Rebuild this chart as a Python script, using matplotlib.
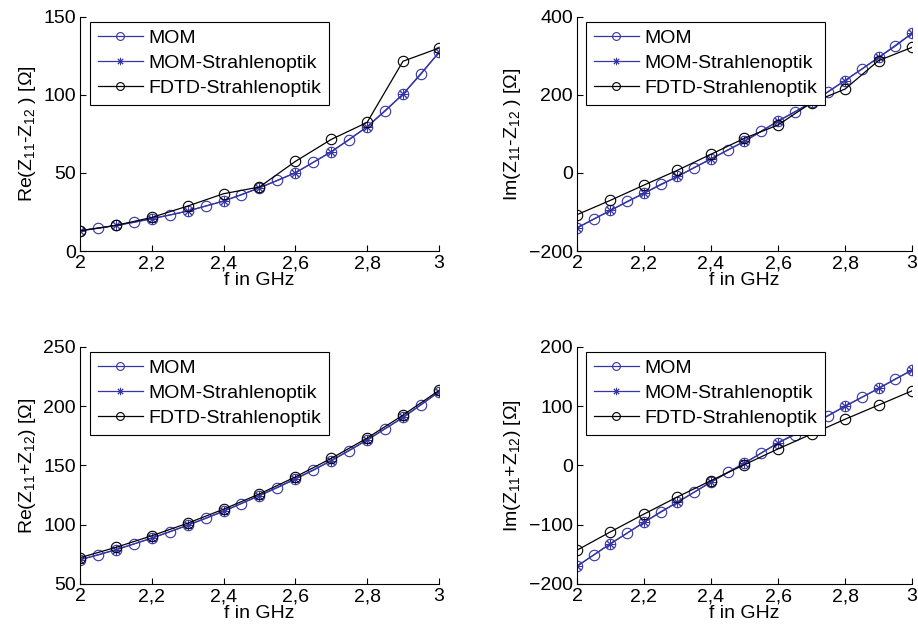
import numpy as np
import matplotlib
matplotlib.use("Agg")
import matplotlib.pyplot as plt

plt.rcParams['font.family'] = ['Liberation Sans', 'DejaVu Sans']
plt.rcParams['mathtext.fontset'] = 'custom'
plt.rcParams['mathtext.rm'] = 'Liberation Sans'
plt.rcParams['mathtext.it'] = 'Liberation Sans'
plt.rcParams['mathtext.default'] = 'regular'

# frequencies
f_fine = [2.00, 2.05, 2.10, 2.15, 2.20, 2.25, 2.30, 2.35, 2.40, 2.45, 2.50,
          2.55, 2.60, 2.65, 2.70, 2.75, 2.80, 2.85, 2.90, 2.95, 3.00]
f_coarse = [2.0, 2.1, 2.2, 2.3, 2.4, 2.5, 2.6, 2.7, 2.8, 2.9, 3.0]

# Re(Z11 - Z12)
re_diff_mom = [13, 14.5, 16.4, 18.3, 20.7, 23, 25.6, 28.8, 32, 36, 40.5,
               45.2, 50.1, 56.8, 63.6, 71.3, 79.6, 89.6, 100.5, 113.3, 127.2]
re_diff_momso = [13, 16.4, 20.7, 25.6, 32, 40.5, 50.1, 63.6, 79.6, 100.5, 127.2]
re_diff_fdtd = [13, 16.4, 21.5, 28.8, 36.7, 41, 57.4, 71.5, 82.4, 121.6, 130]

# Im(Z11 - Z12)
im_diff_mom = [-141, -118, -96, -73, -52, -29, -9, 14, 36, 59, 81,
               107, 133, 156, 181, 208, 237, 266, 296, 325, 358]
im_diff_momso = [-141, -96, -52, -9, 36, 81, 133, 181, 237, 296, 358]
im_diff_fdtd = [-107, -70, -31, 7, 48, 89, 123, 180, 215, 288, 322]

# Re(Z11 + Z12)
re_sum_mom = [70.5, 74.4, 78.9, 83.7, 88.7, 94, 99.6, 105.3, 111.4, 117.9, 124.6,
              131.3, 138.6, 145.9, 154.1, 162.5, 171.5, 181, 190.5, 201.2, 212.1]
re_sum_momso = [70.5, 78.9, 88.7, 99.6, 111.4, 124.6, 138.6, 154.1, 171.5, 190.5, 212.1]
re_sum_fdtd = [72.2, 80.9, 90.7, 101.3, 113.1, 126, 140.3, 156, 173.1, 192.5, 213.3]

# Im(Z11 + Z12)
im_sum_mom = [-170, -151, -132, -114, -96, -78, -62, -45, -28, -11.5, 4,
              21, 38, 52, 69, 84, 100, 115, 130, 146, 161]
im_sum_momso = [-170, -132, -96, -62, -28, 4, 38, 69, 100, 130, 161]
im_sum_fdtd = [-143, -112, -82, -53, -25.5, 1.4, 28, 53, 78, 102, 126]

labels = ['MOM', 'MOM-Strahlenoptik', 'FDTD-Strahlenoptik']
xticks = [2.0, 2.2, 2.4, 2.6, 2.8, 3.0]
xticklabels = ['2', '2,2', '2,4', '2,6', '2,8', '3']

panels = [
    dict(mom=re_diff_mom, so=re_diff_momso, fd=re_diff_fdtd,
         ylabel=r'Re(Z$_{11}$-Z$_{12}$ ) [Ω]', ylim=(0, 150), yticks=[0, 50, 100, 150],
         pos=[0.0871, 0.6022, 0.391, 0.371]),
    dict(mom=im_diff_mom, so=im_diff_momso, fd=im_diff_fdtd,
         ylabel=r'Im(Z$_{11}$-Z$_{12}$ ) [Ω]', ylim=(-200, 400), yticks=[-200, 0, 200, 400],
         pos=[0.6285, 0.6022, 0.365, 0.371]),
    dict(mom=re_sum_mom, so=re_sum_momso, fd=re_sum_fdtd,
         ylabel=r'Re(Z$_{11}$+Z$_{12}$) [Ω]', ylim=(50, 250), yticks=[50, 100, 150, 200, 250],
         pos=[0.0871, 0.0745, 0.391, 0.3756]),
    dict(mom=im_sum_mom, so=im_sum_momso, fd=im_sum_fdtd,
         ylabel=r'Im(Z$_{11}$+Z$_{12}$) [Ω]', ylim=(-200, 200), yticks=[-200, -100, 0, 100, 200],
         pos=[0.6285, 0.0745, 0.365, 0.3756]),
]

blue = '#3535a5'
fs = 14
fig = plt.figure(figsize=(9.18, 6.31), dpi=100)
for p in panels:
    ax = fig.add_axes(p['pos'])
    ax.plot(f_fine, p['mom'], '-o', color=blue, mfc='none', ms=7.5, mew=0.8, lw=0.9, label=labels[0])
    ax.plot(f_coarse, p['so'], '-', marker=(8, 2, 0), color=blue, ms=7, mew=0.7, lw=0.9, label=labels[1])
    ax.plot(f_coarse, p['fd'], '-o', color='black', mfc='none', ms=7.5, mew=0.8, lw=0.9, label=labels[2])
    ax.set_xlim(2, 3)
    ax.set_ylim(*p['ylim'])
    ax.set_xticks(xticks)
    ax.set_xticklabels(xticklabels)
    ax.set_yticks(p['yticks'])
    ax.spines['top'].set_visible(False)
    ax.spines['right'].set_visible(False)
    ax.tick_params(direction='in', labelsize=fs, length=4, width=0.8, pad=3)
    ax.set_xlabel('f in GHz', fontsize=fs, labelpad=0)
    ax.set_ylabel(p['ylabel'], fontsize=fs, labelpad=4)
    leg = ax.legend(loc='upper left', bbox_to_anchor=(0.028, 0.98), borderaxespad=0,
                    fontsize=fs, fancybox=False, edgecolor='black', framealpha=1,
                    handlelength=2.3, borderpad=0.4, labelspacing=0.38, handletextpad=0.3,
                    markerscale=0.75)
    leg.get_frame().set_linewidth(0.8)

fig.savefig('out.png', dpi=100)
